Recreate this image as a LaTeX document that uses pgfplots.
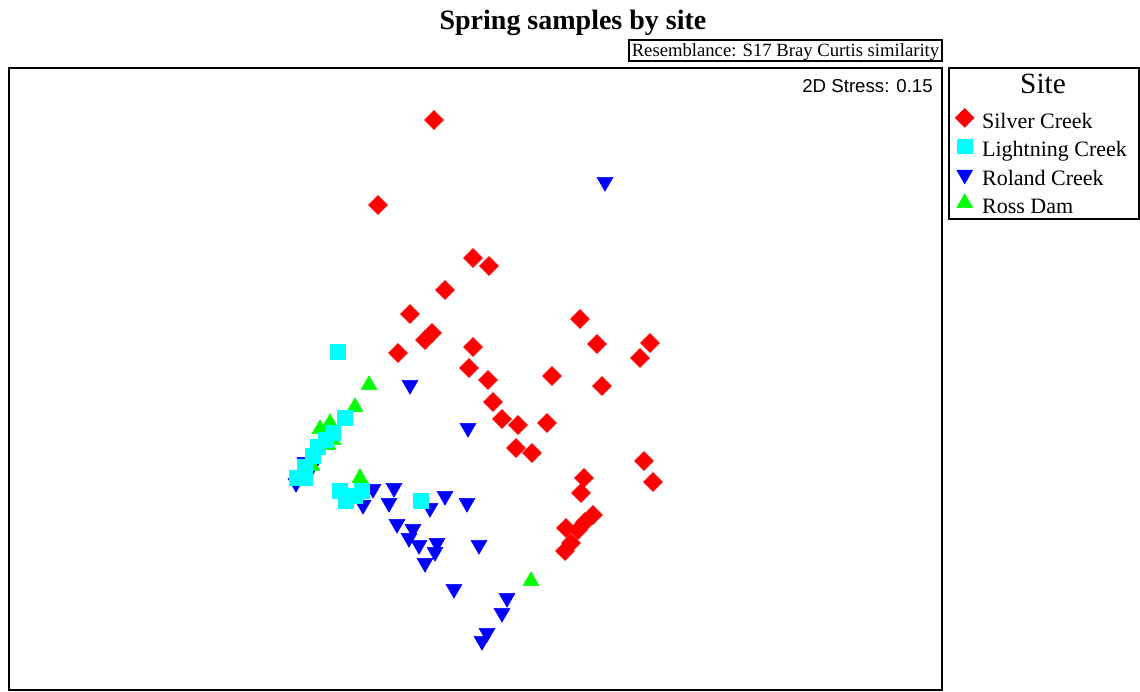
\documentclass[border=0pt]{standalone}
\usepackage{fontspec}
\setmainfont{Liberation Serif}
\newfontfamily\arialfont{Liberation Sans}
\usepackage{pgfplots}
\pgfplotsset{compat=1.18}
\usepackage{pgfplotstable}

\definecolor{sred}{RGB}{255,0,0}
\definecolor{scyan}{RGB}{0,255,255}
\definecolor{sblue}{RGB}{0,0,255}
\definecolor{sgreen}{RGB}{0,255,0}

% nMDS coordinates (screen units, y downwards)
\pgfplotstableread{
x y
434 120
378 205
473 258
489 266
445 290
410 314
432 333
425 340
398 353
473 347
469 368
488 380
580 319
597 344
650 343
640 358
552 376
602 386
493 402
502 419
518 425
547 423
516 448
532 453
644 461
653 482
584 478
581 493
593 515
585 522
578 530
566 528
571 543
565 551
}\silver

\pgfplotstableread{
x y
338 352
345 418
333 433
326 440
318 447
313 456
305 467
297 478
305 478
340 491
346 501
355 496
362 491
421 501
}\lightning

\pgfplotstableread{
x y
605 182
410 385
468 428
296 483
305 462
312 467
373 489
394 488
363 505
389 503
445 496
467 503
430 508
397 524
413 529
409 538
419 545
437 543
435 552
479 545
425 563
454 589
507 598
502 613
487 633
482 641
}\roland

\pgfplotstableread{
x y
369 385
355 407
330 423
320 429
333 440
328 445
312 466
360 478
531 581
}\ross

\begin{document}
\begin{tikzpicture}
\begin{axis}[
  scale only axis, width=699.75pt, height=466.5pt,
  xmin=9, xmax=942, ymin=68, ymax=690, y dir=reverse,
  xtick=\empty, ytick=\empty,
  axis line style={line width=1.2pt},
  clip=false,
  legend cell align=left,
  legend image code/.code={\draw[#1] plot coordinates {(0pt,0.33em)};},
  legend style={at={(axis cs:955,108)}, anchor=north west, draw=none, fill=none,
    inner sep=0pt, row sep=0.3pt, column sep=4pt,
    nodes={text height=13pt, text depth=4pt},
    font=\fontsize{16.5}{19}\selectfont},
]
\path (axis cs:0,0) rectangle (axis cs:1140,692);

\addplot[only marks, sblue, mark=triangle*, mark size=6.9pt, mark options={rotate=180}, forget plot] table {\roland};
\addplot[only marks, sgreen, mark=triangle*, mark size=6.9pt, forget plot] table {\ross};
\addplot[only marks, sred, mark=square*, mark size=5pt, mark options={rotate=45}, forget plot] table {\silver};
\addplot[only marks, scyan, mark=square*, mark size=5.5pt, forget plot] table {\lightning};

\addlegendimage{only marks, sred, mark=square*, mark size=5pt, mark options={rotate=45}}
\addlegendentry{Silver Creek}
\addlegendimage{only marks, scyan, mark=square*, mark size=5.4pt}
\addlegendentry{Lightning Creek}
\addlegendimage{only marks, sblue, mark=triangle*, mark size=6.9pt, mark options={rotate=180}}
\addlegendentry{Roland Creek}
\addlegendimage{only marks, sgreen, mark=triangle*, mark size=6.9pt}
\addlegendentry{Ross Dam}

% title and annotations
\node[anchor=base, font=\fontsize{21}{25}\selectfont\bfseries] at (axis cs:573,30) {Spring samples by site};
\draw[line width=1.2pt] (axis cs:629,40) rectangle (axis cs:942,61);
\node[anchor=base, inner sep=0pt, font=\fontsize{14}{16}\selectfont] at (axis cs:785.5,57) {Resemblance: S17 Bray Curtis similarity};
\node[anchor=base east, inner sep=0pt, font=\arialfont\fontsize{14}{16}\selectfont] at (axis cs:933,93) {2D Stress: 0.15};
\draw[line width=1.2pt] (axis cs:949,68) rectangle (axis cs:1139,219);
\node[anchor=base, inner sep=0pt, font=\fontsize{22}{26}\selectfont] at (axis cs:1043,94) {Site};
\end{axis}
\end{tikzpicture}
\end{document}
